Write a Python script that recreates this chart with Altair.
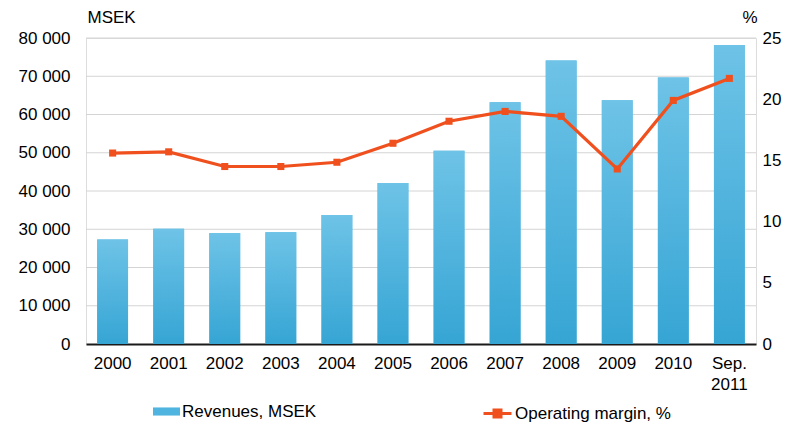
import altair as alt
import pandas as pd

categories = ["2000", "2001", "2002", "2003", "2004", "2005", "2006",
              "2007", "2008", "2009", "2010", "Sep. 2011"]
revenues = [27300, 30100, 29000, 29200, 33700, 42100, 50500,
            63200, 74100, 63700, 69700, 78200]
margin = [15.6, 15.7, 14.5, 14.5, 14.85, 16.4, 18.2,
          19.0, 18.6, 14.3, 19.9, 21.7]
rev_label = "Revenues, MSEK"
margin_label = "Operating margin, %"
left_ticks = [0, 10000, 20000, 30000, 40000, 50000, 60000, 70000, 80000]
right_ticks = [0, 5, 10, 15, 20, 25]

df = pd.DataFrame({
    "cat": categories,
    "rev": revenues,
    "margin": margin,
    "rev_s": [rev_label] * len(categories),
    "mar_s": [margin_label] * len(categories),
})
grid_df = pd.DataFrame({"rev": left_ticks[1:]})

FONT = "Liberation Sans"
BLUE = "#4FB5E0"
ORANGE = "#F0501E"

x = alt.X("cat:N", sort=categories, title=None,
          scale=alt.Scale(paddingInner=0.45, paddingOuter=0.2),
          axis=alt.Axis(labelAngle=0, labelExpr="split(datum.label, ' ')",
                        labelLineHeight=21, labelFontSize=17, labelColor="#000",
                        labelPadding=11, ticks=False, domainColor="#1a1a1a",
                        domainWidth=2, labelFont=FONT, grid=False))

y_left = alt.Y("rev:Q", title="MSEK",
               scale=alt.Scale(domain=[0, 80000]),
               axis=alt.Axis(values=left_ticks, ticks=False, domain=False,
                             labelExpr="replace(format(datum.value, ','), ',', ' ')",
                             labelFontSize=17, labelColor="#000", labelFont=FONT,
                             labelPadding=16, labelOverlap=False,
                             grid=False,
                             titleAngle=0, titleX=1, titleY=-16, titleAlign="left",
                             titleBaseline="alphabetic", titleFontSize=17,
                             titleFontWeight="normal", titleFont=FONT, titleColor="#000"))

grid = alt.Chart(grid_df).mark_rule(color="#d4d4d4", strokeWidth=1).encode(
    y=y_left
)

bars_legend = alt.Chart(df).mark_bar().encode(
    x=x,
    y=y_left,
    fill=alt.Fill("rev_s:N", scale=alt.Scale(domain=[rev_label], range=[BLUE]),
                  legend=alt.Legend(orient="none", legendX=67, legendY=360, title=None,
                                    symbolType="M-1,-0.3H1V0.3H-1Z", symbolSize=729,
                                    symbolStrokeWidth=0,
                                    labelFontSize=17, labelFont=FONT, labelColor="#000",
                                    labelOffset=2, padding=0)),
)

bars = alt.Chart(df).mark_bar(
    color=alt.Gradient(gradient="linear", x1=0, y1=0, x2=0, y2=1,
                       stops=[alt.GradientStop(color="#6EC3E7", offset=0),
                              alt.GradientStop(color="#36A5D4", offset=1)])
).encode(x=x, y=y_left)

bar_layer = alt.layer(grid, bars_legend, bars)

y_right = alt.Y("margin:Q", title="%",
                scale=alt.Scale(domain=[0, 25]),
                axis=alt.Axis(orient="right", values=right_ticks, ticks=False,
                              domain=False, grid=False, labelFontSize=17,
                              labelColor="#000", labelFont=FONT, labelPadding=6,
                              labelOverlap=False,
                              titleAngle=0, titleX=1, titleY=-16, titleAlign="right",
                              titleBaseline="alphabetic", titleFontSize=17,
                              titleFontWeight="normal", titleFont=FONT, titleColor="#000"))

line = alt.Chart(df).mark_line(strokeWidth=3.2).encode(
    x=x,
    y=y_right,
    stroke=alt.Stroke("mar_s:N", scale=alt.Scale(domain=[margin_label], range=[ORANGE]),
                      legend=alt.Legend(orient="none", legendX=396, legendY=360, title=None,
                                        symbolType="M-1,0H1M-0.25,-0.25H0.25V0.25H-0.25Z",
                                        symbolSize=784, symbolStrokeWidth=3,
                                        symbolFillColor=ORANGE,
                                        labelFontSize=17, labelFont=FONT, labelColor="#000",
                                        labelOffset=2, padding=0)),
)
points = alt.Chart(df).mark_point(shape="square", filled=True, size=50,
                                  color=ORANGE, opacity=1).encode(x=x, y=y_right)
line_layer = alt.layer(line, points)

chart = alt.layer(bar_layer, line_layer).resolve_scale(
    y="independent"
).properties(
    width=670, height=306,
    autosize="none",
    padding={"left": 78, "top": 30, "right": 26, "bottom": 78},
).configure_view(stroke=None).configure(font=FONT)

chart.save("out.html", embed_options={"renderer": "svg", "actions": False})
